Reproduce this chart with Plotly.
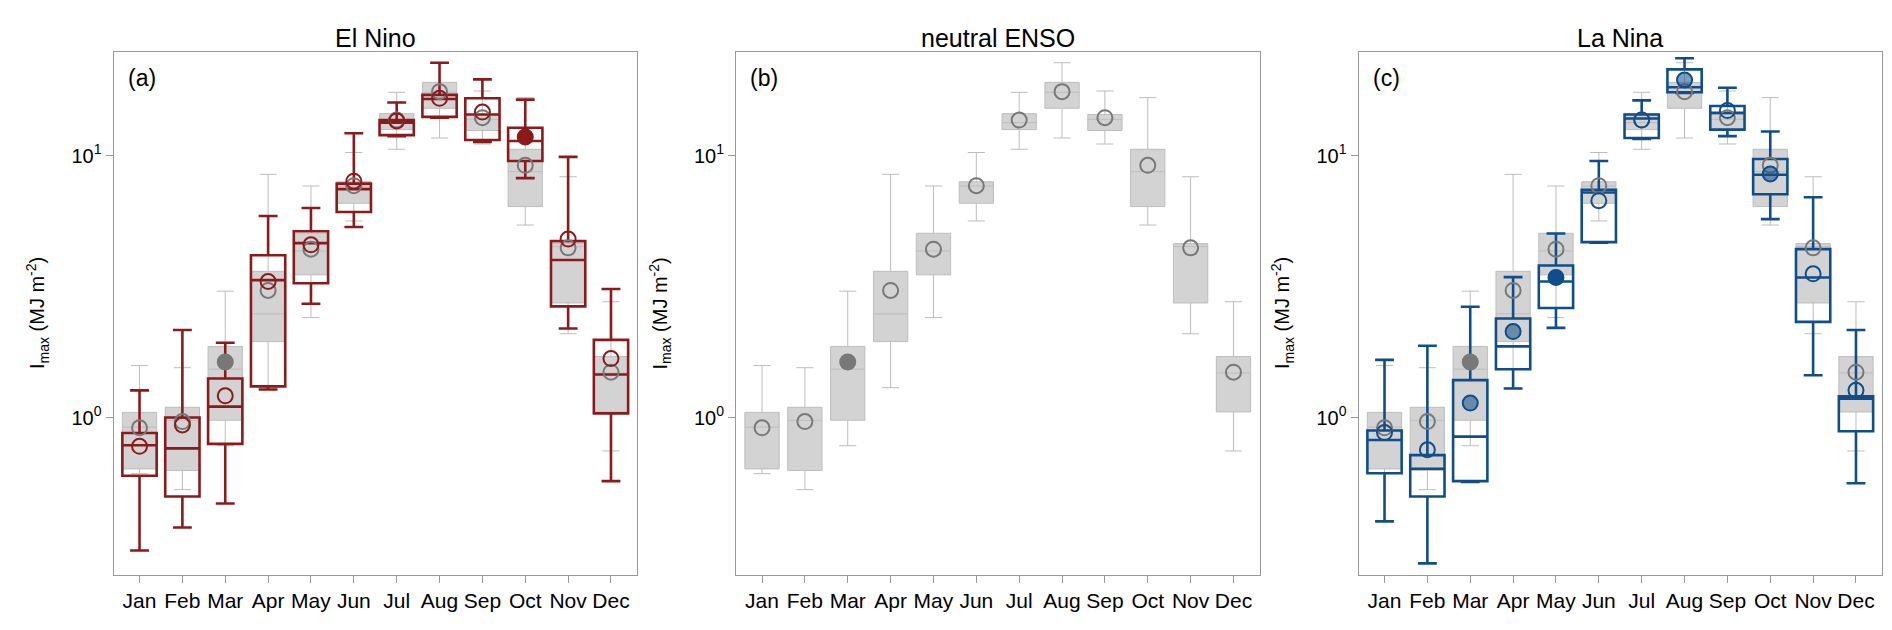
import plotly.graph_objects as go
from plotly.subplots import make_subplots

months = ['Jan', 'Feb', 'Mar', 'Apr', 'May', 'Jun', 'Jul', 'Aug', 'Sep', 'Oct', 'Nov', 'Dec']

# neutral ENSO (grey reference boxes, drawn in every panel)
neu_low = [0.61, 0.53, 0.78, 1.30, 2.41, 5.64, 10.6, 11.7, 11.1, 5.44, 2.09, 0.745]
neu_q1 = [0.636, 0.627, 0.976, 1.95, 3.51, 6.59, 12.6, 15.2, 12.5, 6.4, 2.74, 1.05]
neu_med = [0.919, 0.976, 1.53, 2.49, 4.33, 7.67, 13.4, 17.5, 13.8, 8.7, 4.5, 1.48]
neu_q3 = [1.046, 1.094, 1.87, 3.62, 5.06, 7.96, 14.5, 19.1, 14.4, 10.6, 4.62, 1.71]
neu_high = [1.58, 1.55, 3.04, 8.5, 7.67, 10.3, 17.5, 22.7, 17.7, 16.7, 8.32, 2.77]
neu_mean = [0.913, 0.965, 1.63, 3.06, 4.40, 7.69, 13.7, 17.6, 14.0, 9.2, 4.45, 1.49]
neu_sig = [0, 0, 2, 0, 0, 0, 0, 0, 0, 0, 0, 0]

# El Nino
nino_low = [0.31, 0.38, 0.469, 1.28, 2.72, 5.35, 11.9, 14.0, 11.3, 8.22, 2.19, 0.571]
nino_q1 = [0.599, 0.499, 0.793, 1.315, 3.26, 6.10, 12.0, 14.1, 11.5, 9.56, 2.66, 1.037]
nino_med = [0.783, 0.762, 1.10, 3.35, 4.64, 7.46, 13.4, 16.5, 14.4, 11.4, 4.0, 1.46]
nino_q3 = [0.873, 1.00, 1.41, 4.17, 5.15, 7.83, 13.7, 17.1, 16.6, 12.8, 4.72, 1.98]
nino_high = [1.27, 2.16, 1.93, 5.89, 6.32, 12.2, 16.0, 22.7, 19.6, 16.4, 9.91, 3.10]
nino_mean = [0.776, 0.936, 1.21, 3.31, 4.57, 8.0, 13.6, 16.6, 14.7, 11.8, 4.81, 1.68]
nino_sig = [0, 0, 0, 0, 0, 0, 0, 0, 0, 2, 0, 0]

# La Nina
nina_low = [0.401, 0.277, 0.567, 1.29, 2.20, 4.66, 11.6, 17.4, 11.9, 5.73, 1.45, 0.561]
nina_q1 = [0.612, 0.499, 0.571, 1.53, 2.62, 4.68, 11.7, 17.5, 12.6, 7.13, 2.32, 0.886]
nina_med = [0.820, 0.637, 0.845, 1.87, 3.31, 7.24, 13.9, 18.3, 14.6, 8.47, 3.43, 1.18]
nina_q3 = [0.892, 0.718, 1.39, 2.39, 3.81, 7.42, 14.4, 21.4, 15.5, 9.73, 4.40, 1.205]
nina_high = [1.66, 1.88, 2.65, 3.44, 5.05, 9.56, 16.3, 23.6, 18.2, 12.4, 6.95, 2.16]
nina_mean = [0.876, 0.753, 1.135, 2.13, 3.43, 6.74, 13.7, 19.5, 14.9, 8.53, 3.54, 1.27]
nina_sig = [0, 0, 1, 1, 2, 0, 0, 1, 0, 1, 0, 0]

panel_titles = ['El Nino', 'neutral ENSO', 'La Nina']
panel_letters = ['(a)', '(b)', '(c)']

FONT = 'Liberation Sans, Arial, Helvetica, sans-serif'
GREY_FILL = '#d3d3d3'
GREY_LINE = '#bdbdbd'
GREY_DOT = '#787878'
RED = '#8b1a1a'
BLUE = '#104e8b'
BLUE_LIGHT = 'rgba(16,78,139,0.55)'

fig = make_subplots(rows=1, cols=3)


def add_box(col, low, q1, med, q3, high, color, fill, lw, cap):
    fig.add_trace(go.Box(x=months, lowerfence=low, q1=q1, median=med, q3=q3,
                         upperfence=high, width=0.8, whiskerwidth=cap,
                         fillcolor=fill, line=dict(color=color, width=lw),
                         boxpoints=False, showlegend=False, hoverinfo='skip'),
                  row=1, col=col)


def add_means(col, mean, sig, color, weak_color):
    # open circles for all months, filled where significant
    fig.add_trace(go.Scatter(x=months, y=mean, mode='markers', showlegend=False,
                             marker=dict(symbol='circle-open', size=15,
                                         color=color, line=dict(width=2, color=color))),
                  row=1, col=col)
    for level, c in [(1, weak_color), (2, color)]:
        xs = [m for m, s in zip(months, sig) if s == level]
        ys = [v for v, s in zip(mean, sig) if s == level]
        if xs:
            fig.add_trace(go.Scatter(x=xs, y=ys, mode='markers', showlegend=False,
                                     marker=dict(symbol='circle', size=16, color=c,
                                                 line=dict(width=0))),
                          row=1, col=col)


extremes = {1: (nino_low, nino_q1, nino_med, nino_q3, nino_high, nino_mean, nino_sig, RED, RED),
            2: None,
            3: (nina_low, nina_q1, nina_med, nina_q3, nina_high, nina_mean, nina_sig, BLUE, BLUE_LIGHT)}

for col in [1, 2, 3]:
    add_box(col, neu_low, neu_q1, neu_med, neu_q3, neu_high, GREY_LINE, GREY_FILL, 1, 0.5)
    ext = extremes[col]
    if ext:
        add_box(col, ext[0], ext[1], ext[2], ext[3], ext[4], ext[7], 'rgba(0,0,0,0)', 2.6, 0.55)
    add_means(col, neu_mean, neu_sig, GREY_DOT, GREY_DOT)
    if ext:
        add_means(col, ext[5], ext[6], ext[7], ext[8])

W, H = 1892, 630
x_doms = [(105.5, 629), (728, 1251.5), (1350.5, 1874)]
y_dom = [1 - 567 / H, 1 - 44 / H]

for i, (x0, x1) in enumerate(x_doms):
    n = '' if i == 0 else str(i + 1)
    fig.layout['xaxis' + n].update(
        domain=[x0 / W, x1 / W], type='category', range=[-0.607, 11.607],
        showline=True, mirror=True, linecolor='#999999', linewidth=1,
        ticks='outside', ticklen=7, tickcolor='#999999', ticklabelstandoff=0,
        showgrid=False, zeroline=False,
        tickfont=dict(family=FONT, size=21, color='black'))
    fig.layout['yaxis' + n].update(
        domain=y_dom, type='log', range=[-0.602, 1.397],
        showline=True, mirror=True, linecolor='#999999', linewidth=1,
        ticks='outside', ticklen=7, tickcolor='#999999', ticklabelstandoff=0,
        tickvals=[1, 10], ticktext=['10<sup>0</sup>', '10<sup>1</sup>'],
        showgrid=False, zeroline=False,
        tickfont=dict(family=FONT, size=20, color='black'))
    xd = 'x' + n + ' domain'
    yd = 'y' + n + ' domain'
    fig.add_annotation(text=panel_titles[i], xref=xd, yref=yd, x=0.5, y=1,
                       yshift=14, xanchor='center', yanchor='middle', showarrow=False,
                       font=dict(family=FONT, size=25, color='black'))
    fig.add_annotation(text=panel_letters[i], xref=xd, yref=yd, x=0, y=1,
                       xshift=12, yshift=-26, xanchor='left', yanchor='middle',
                       showarrow=False, font=dict(family=FONT, size=23, color='black'))
    fig.add_annotation(text='I<sub>max</sub> (MJ m<sup>-2</sup>)', xref=xd, yref=yd,
                       x=0, y=0.5, xshift=-76, xanchor='center', yanchor='middle',
                       textangle=-90, showarrow=False,
                       font=dict(family=FONT, size=20, color='black'))

fig.update_layout(width=W, height=H, boxmode='overlay',
                  margin=dict(l=0, r=0, t=0, b=0),
                  plot_bgcolor='white', paper_bgcolor='white',
                  showlegend=False)

fig.write_html('out.html')
